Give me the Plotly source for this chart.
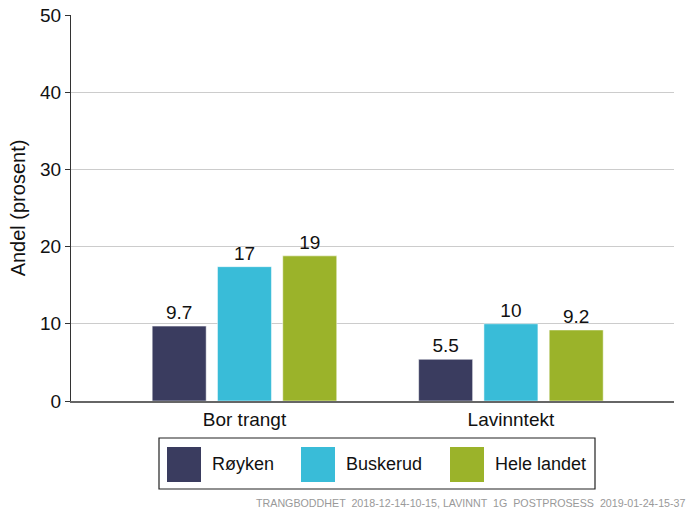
import plotly.graph_objects as go

# data
categories = ["Bor trangt", "Lavinntekt"]
series = ["Røyken", "Buskerud", "Hele landet"]
values = {
    "Røyken": [9.7, 5.4],
    "Buskerud": [17.4, 10.0],
    "Hele landet": [18.8, 9.2],
}
labels = {
    "Røyken": ["9.7", "5.5"],
    "Buskerud": ["17", "10"],
    "Hele landet": ["19", "9.2"],
}
y_ticks = [0, 10, 20, 30, 40, 50]
footer = "TRANGBODDHET  2018-12-14-10-15, LAVINNT  1G  POSTPROSESS  2019-01-24-15-37"

COLORS = {"Røyken": "#3a3c5f", "Buskerud": "#39bcd8", "Hele landet": "#9bb32a"}
FONT = "Liberation Sans, Arial, sans-serif"

W, H = 694, 509
L, R, T, B = 71, 20, 15, 108
PW, PH = W - L - R, H - T - B


def px_x(x):
    return (x - L) / PW


def px_y(y):
    return (H - B - y) / PH


fig = go.Figure()
for s in series:
    fig.add_trace(go.Bar(
        x=list(range(len(categories))), y=values[s], name=s,
        marker=dict(color=COLORS[s], line=dict(color="rgba(255,255,255,0.5)", width=1)),
        text=labels[s], textposition="outside", cliponaxis=False,
        textfont=dict(size=19, color="#111111", family=FONT),
        showlegend=False,
    ))

# legend drawn by hand for large square swatches
shapes = [dict(type="rect", xref="paper", yref="paper",
               x0=px_x(159), x1=px_x(595), y0=px_y(489), y1=px_y(438),
               line=dict(color="#222222", width=1.2), fillcolor="white")]
annotations = []
swatch_x = [167, 301, 450]
for s, sx in zip(series, swatch_x):
    shapes.append(dict(type="rect", xref="paper", yref="paper",
                       x0=px_x(sx), x1=px_x(sx + 34), y0=px_y(482), y1=px_y(447),
                       line=dict(width=0), fillcolor=COLORS[s]))
    annotations.append(dict(text=s, xref="paper", yref="paper",
                            x=px_x(sx + 43), y=px_y(464.5), xanchor="left", yanchor="middle",
                            showarrow=False, font=dict(size=18, color="#111111", family=FONT)))

annotations.append(dict(text=footer, xref="paper", yref="paper",
                        x=px_x(688), y=px_y(503), xanchor="right", yanchor="middle",
                        showarrow=False, font=dict(size=10.7, color="#999999", family=FONT)))

fig.update_layout(
    width=W, height=H,
    margin=dict(l=L, r=R, t=T, b=B),
    paper_bgcolor="white", plot_bgcolor="white",
    font=dict(family=FONT, size=19, color="#111111"),
    barmode="group", bargap=0.265, bargroupgap=0.173,
    shapes=shapes, annotations=annotations,
    xaxis=dict(
        range=[-0.651, 1.612], tickvals=list(range(len(categories))), ticktext=categories,
        showgrid=False, showline=True, linecolor="#666666", linewidth=2,
        ticks="", tickfont=dict(size=19, color="#111111"), zeroline=False, automargin=False,
    ),
    yaxis=dict(
        range=[0, 50], tickvals=y_ticks, showgrid=True, gridcolor="#cccccc", gridwidth=1,
        showline=True, linecolor="#333333", linewidth=1, ticks="outside", ticklen=5,
        tickcolor="#333333", tickfont=dict(size=19, color="#111111"), zeroline=False,
        automargin=False,
        title=dict(text="Andel (prosent)", font=dict(size=20, color="#111111"), standoff=9),
    ),
)

fig.write_html("out.html", config={"displayModeBar": False},
               post_script="document.body.style.margin='0';")
